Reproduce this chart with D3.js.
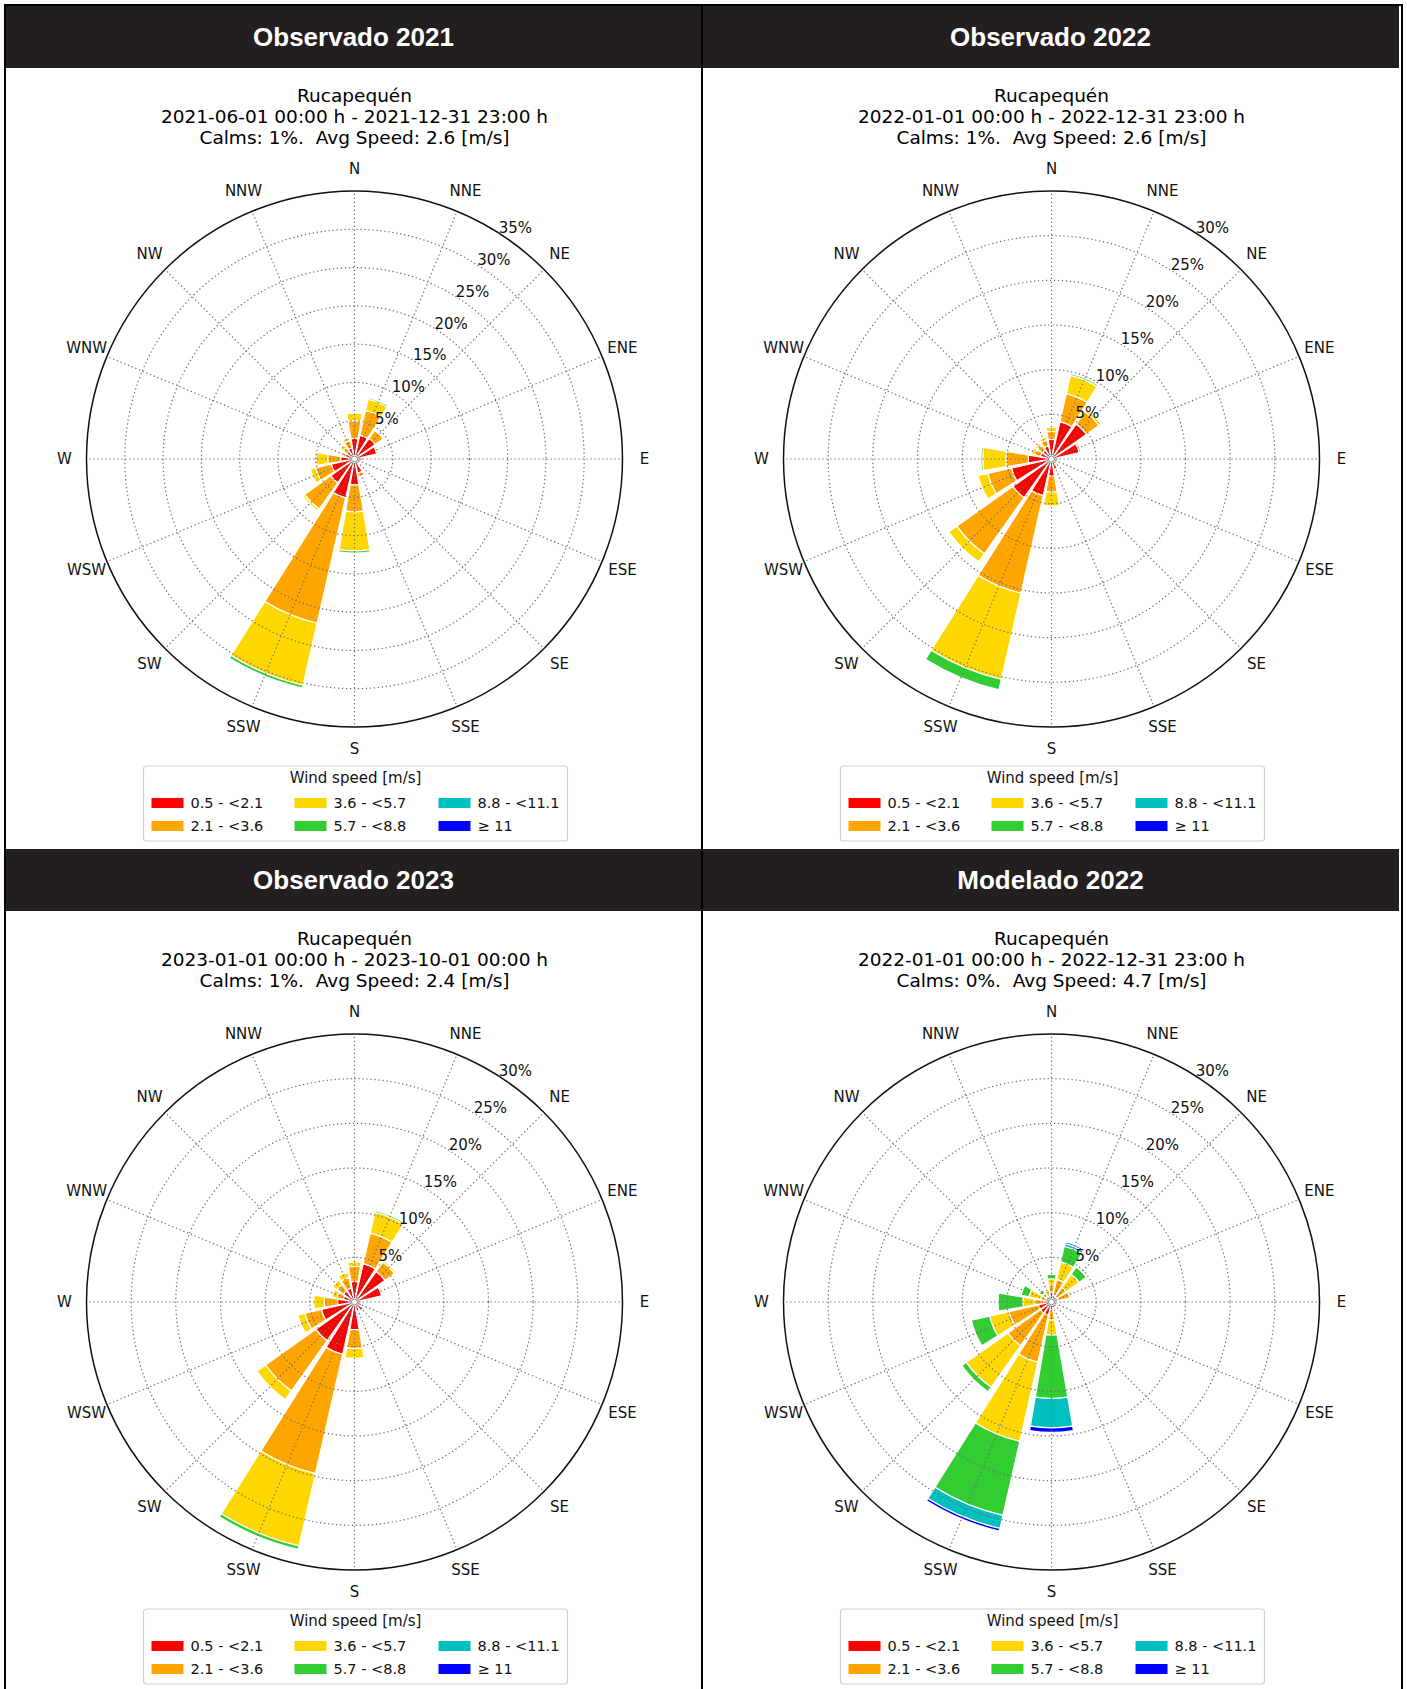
<!DOCTYPE html>
<html>
<head>
<meta charset="utf-8">
<script src="https://cdn.jsdelivr.net/npm/d3@7"></script>
<style>
  body { margin: 0; background: #fff; }
  svg { display: block; }
</style>
</head>
<body>
<svg id="chart" width="1407" height="1689"></svg>
<script>
// compass sectors, clockwise from north
const directions = ["N", "NNE", "NE", "ENE", "E", "ESE", "SE", "SSE",
                    "S", "SSW", "SW", "WSW", "W", "WNW", "NW", "NNW"];

const speedLabels = ["0.5 - <2.1", "2.1 - <3.6", "3.6 - <5.7", "5.7 - <8.8", "8.8 - <11.1", "\u2265 11"];
const speedColors = ["#ff0000", "#ffa500", "#ffd700", "#32cd32", "#00bfbf", "#0000ff"];

// frequency [%] per sector and speed class (one row per direction)
const obs2021 = [
  [2.7, 2.3, 1.0, 0, 0, 0], [3.2, 3.3, 1.5, 0.2, 0, 0], [3.3, 1.3, 0.1, 0, 0, 0], [3.0, 0.2, 0, 0, 0, 0],
  [1.0, 0, 0, 0, 0, 0], [0.8, 0, 0, 0, 0, 0], [0.6, 0, 0, 0, 0, 0], [1.9, 0.5, 0, 0, 0, 0],
  [3.4, 3.5, 5.1, 0.3, 0, 0], [5.2, 16.8, 8.3, 0.4, 0, 0], [3.8, 4.2, 0.3, 0, 0, 0], [3.1, 2.1, 0.7, 0, 0, 0],
  [1.8, 1.7, 1.5, 0.2, 0, 0], [1.2, 0.4, 0.2, 0, 0, 0], [1.2, 0.6, 0.4, 0, 0, 0], [1.5, 1.0, 0.4, 0, 0, 0]
];
const obs2022 = [
  [2.2, 0.9, 0.5, 0, 0, 0], [4.3, 3.2, 2.1, 0.2, 0, 0], [4.8, 1.7, 0.3, 0, 0, 0], [3.2, 0.2, 0, 0, 0, 0],
  [0.8, 0, 0, 0, 0, 0], [0.6, 0, 0, 0, 0, 0], [0.5, 0, 0, 0, 0, 0], [1.2, 0, 0, 0, 0, 0],
  [1.9, 1.8, 1.6, 0.1, 0, 0], [4.2, 11.2, 9.9, 1.2, 0, 0], [5.3, 7.7, 1.1, 0, 0, 0], [4.6, 2.7, 1.1, 0, 0, 0],
  [2.6, 2.5, 2.6, 0.2, 0, 0], [1.3, 0.6, 0.4, 0, 0, 0], [1.2, 0.7, 0.3, 0, 0, 0], [1.5, 0.7, 0.3, 0, 0, 0]
];
const obs2023 = [
  [2.3, 1.7, 0.5, 0, 0, 0], [4.4, 3.5, 2.4, 0.2, 0, 0], [4.2, 1.3, 0.2, 0, 0, 0], [3.1, 0, 0, 0, 0, 0],
  [0.8, 0, 0, 0, 0, 0], [0.8, 0, 0, 0, 0, 0], [1.2, 0, 0, 0, 0, 0], [1.0, 0, 0, 0, 0, 0],
  [3.1, 2.1, 1.1, 0, 0, 0], [6.0, 13.7, 8.3, 0.4, 0, 0], [5.3, 6.9, 1.2, 0, 0, 0], [3.8, 1.9, 0.8, 0, 0, 0],
  [1.9, 1.5, 1.2, 0.1, 0, 0], [1.3, 0.7, 0.6, 0, 0, 0], [1.5, 0.9, 0.6, 0, 0, 0], [1.6, 1.2, 0.6, 0, 0, 0]
];
const mod2022 = [
  [1.1, 0.8, 0.7, 0.5, 0, 0], [0.8, 1.8, 2.0, 1.8, 0.3, 0.2], [0.7, 1.3, 1.8, 1.0, 0.1, 0], [0.8, 1.3, 0.2, 0, 0, 0],
  [0.5, 0, 0, 0, 0, 0], [0.5, 0, 0, 0, 0, 0], [0.6, 0, 0, 0, 0, 0], [0.7, 0, 0, 0, 0, 0],
  [0.9, 1.1, 1.7, 7.1, 3.3, 0.5], [1.5, 5.4, 9.1, 8.5, 1.5, 0.3], [1.5, 4.5, 5.7, 0.6, 0, 0], [1.5, 3.4, 2.2, 2.1, 0, 0],
  [0.9, 1.0, 1.3, 2.8, 0.1, 0], [0.5, 0.8, 1.3, 0.9, 0, 0], [0.4, 0.4, 0.5, 0.4, 0, 0], [0.3, 0.3, 0.4, 0.3, 0, 0]
];

const headers = ["Observado 2021", "Observado 2022", "Observado 2023", "Modelado 2022"];
const stations = ["Rucapequén", "Rucapequén", "Rucapequén", "Rucapequén"];
const periods = [
  "2021-06-01 00:00 h - 2021-12-31 23:00 h",
  "2022-01-01 00:00 h - 2022-12-31 23:00 h",
  "2023-01-01 00:00 h - 2023-10-01 00:00 h",
  "2022-01-01 00:00 h - 2022-12-31 23:00 h"
];
const calms = [1, 1, 1, 0];
const avgSpeeds = [2.6, 2.6, 2.4, 4.7];
const rMaxes = [35, 30, 30, 30];
const roseData = [obs2021, obs2022, obs2023, mod2022];

const svg = d3.select("#chart");
const font = "'DejaVu Sans', sans-serif";
const R = 268;          // outer circle radius
const calmR = 3;        // small calm circle at the centre
const colX = [5, 702], rowY = [6, 849];
const panelW = 697, headerH = 62;

//Draw one wind rose panel
function drawPanel(p) {
	let x0 = colX[p % 2], y0 = rowY[Math.floor(p / 2)];
	let cx = x0 + panelW / 2 + 1, cy = y0 + 453;
	let g = svg.append("g");

	//Header band
	g.append("rect")
		.attr("x", x0).attr("y", y0)
		.attr("width", panelW).attr("height", headerH)
		.attr("fill", "#231f20");
	g.append("text")
		.attr("x", x0 + panelW / 2).attr("y", y0 + 31)
		.attr("text-anchor", "middle").attr("dominant-baseline", "central")
		.attr("font-family", "'Liberation Sans', Arial, sans-serif")
		.attr("font-weight", "bold").attr("font-size", 26)
		.attr("fill", "#fff")
		.text(headers[p]);

	//Title lines
	let titles = [stations[p], periods[p],
		"Calms: " + calms[p] + "%.  Avg Speed: " + avgSpeeds[p] + " [m/s]"];
	g.selectAll(".title").data(titles).enter().append("text")
		.attr("x", cx).attr("y", (d, i) => y0 + 89 + i * 21)
		.attr("text-anchor", "middle").attr("dominant-baseline", "central")
		.attr("font-family", font).attr("font-size", 18.5).attr("fill", "#000")
		.style("white-space", "pre")
		.text(d => d);

	let rose = g.append("g").attr("transform", "translate(" + cx + "," + cy + ")");
	let rScale = d3.scaleLinear().domain([0, rMaxes[p]]).range([0, R]);
	let aScale = d3.scaleLinear().domain([0, directions.length]).range([0, 2 * Math.PI]);
	let half = aScale(1) * 0.43;

	//Stack the speed classes
	let rows = roseData[p].map((v, i) => {
		let o = {dir: i};
		v.forEach((s, k) => o[k] = s);
		return o;
	});
	let series = d3.stack().keys(d3.range(speedLabels.length))(rows);

	let arc = d3.arc()
		.innerRadius(d => Math.max(calmR, rScale(d[0])))
		.outerRadius(d => Math.max(calmR, rScale(d[1])))
		.startAngle(d => aScale(d.data.dir) - half)
		.endAngle(d => aScale(d.data.dir) + half);

	rose.selectAll(".layer").data(series).enter().append("g")
		.attr("fill", (d, i) => speedColors[i])
		.selectAll("path").data(d => d.filter(s => s[1] - s[0] > 0)).enter().append("path")
		.attr("d", arc)
		.attr("stroke", "#fff").attr("stroke-width", 1.2);

	//Grid on top of the bars
	let ticks = d3.range(5, rMaxes[p], 5);
	rose.selectAll(".ring").data(ticks).enter().append("circle")
		.attr("r", d => rScale(d))
		.attr("fill", "none").attr("stroke", "#6e6e6e")
		.attr("stroke-width", 1.2).attr("stroke-dasharray", "1.3,2.7");
	rose.selectAll(".spoke").data(directions).enter().append("line")
		.attr("x1", 0).attr("y1", 0)
		.attr("x2", (d, i) => R * Math.sin(aScale(i)))
		.attr("y2", (d, i) => -R * Math.cos(aScale(i)))
		.attr("stroke", "#6e6e6e").attr("stroke-width", 1.2)
		.attr("stroke-dasharray", "1.3,2.7");
	rose.append("circle").attr("r", R)
		.attr("fill", "none").attr("stroke", "#111").attr("stroke-width", 1.5);
	rose.append("circle").attr("r", calmR)
		.attr("fill", "#fff").attr("stroke", "#888").attr("stroke-width", 1);

	//Radial percent labels
	let la = 34 * Math.PI / 180;
	rose.selectAll(".rlab").data(ticks.concat([rMaxes[p]])).enter().append("text")
		.attr("x", d => rScale(d) * Math.sin(la) + 11)
		.attr("y", d => -rScale(d) * Math.cos(la) - 8.5)
		.attr("text-anchor", "middle").attr("dominant-baseline", "central")
		.attr("font-family", font).attr("font-size", 15).attr("fill", "#111")
		.text(d => d + "%");

	//Compass labels
	rose.selectAll(".dir").data(directions).enter().append("text")
		.attr("x", (d, i) => (R + 22) * Math.sin(aScale(i)))
		.attr("y", (d, i) => -(R + 22) * Math.cos(aScale(i)))
		.attr("text-anchor", "middle").attr("dominant-baseline", "central")
		.attr("font-family", font).attr("font-size", 15).attr("fill", "#111")
		.text(d => d);

	//Legend
	let leg = g.append("g").attr("transform", "translate(" + cx + "," + (y0 + 760) + ")");
	leg.append("rect")
		.attr("x", -211).attr("y", 0).attr("width", 424).attr("height", 75)
		.attr("rx", 3).attr("fill", "#fff").attr("stroke", "#d0d0d0").attr("stroke-width", 1.2);
	leg.append("text")
		.attr("x", 1).attr("y", 12)
		.attr("text-anchor", "middle").attr("dominant-baseline", "central")
		.attr("font-family", font).attr("font-size", 15).attr("fill", "#111")
		.text("Wind speed [m/s]");
	let colsX = [-203, -60, 84];
	let item = leg.selectAll(".item").data(speedLabels).enter().append("g")
		.attr("transform", (d, i) => "translate(" + colsX[Math.floor(i / 2)] + "," + (37 + (i % 2) * 23) + ")");
	item.append("rect")
		.attr("x", 0).attr("y", -5).attr("width", 32).attr("height", 10)
		.attr("fill", (d, i) => speedColors[i]);
	item.append("text")
		.attr("x", 39).attr("y", 0)
		.attr("dominant-baseline", "central")
		.attr("font-family", font).attr("font-size", 14.5).attr("fill", "#111")
		.text(d => d);
}

for (let p = 0; p < 4; p++) {
	drawPanel(p);
}

//Frame lines
svg.append("rect")
	.attr("x", 5).attr("y", 5).attr("width", 1397).attr("height", 1700)
	.attr("fill", "none").attr("stroke", "#000").attr("stroke-width", 2);
svg.append("line")
	.attr("x1", 702).attr("x2", 702).attr("y1", 5).attr("y2", 1689)
	.attr("stroke", "#000").attr("stroke-width", 2);
</script>
</body>
</html>
